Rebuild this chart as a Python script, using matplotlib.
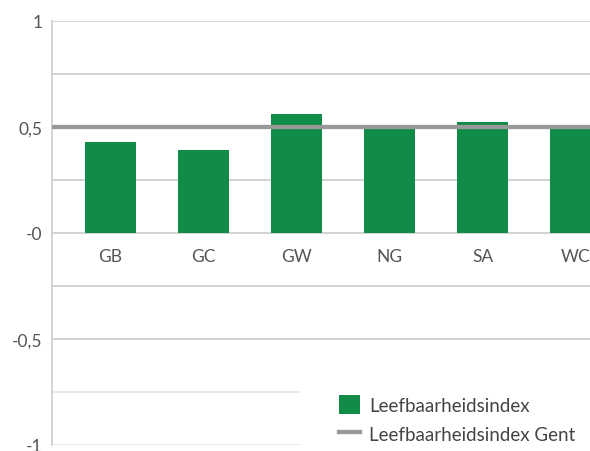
import matplotlib.pyplot as plt
import numpy as np

plt.rcParams["font.family"] = ["Lato", "DejaVu Sans"]

wijken = ["GB", "GC", "GW", "NG", "SA", "WC"]
index_wijk = [0.43, 0.39, 0.56, 0.495, 0.525, 0.5]
index_gent = 0.5
y_ticks = [1, 0.5, 0, -0.5, -1]
y_labels = ["1", "0,5", "-0", "-0,5", "-1"]

GREEN = "#118b48"
GREY_LINE = "#999999"
GRID = "#d0d0d0"
GRID_LIGHT = "#e6e6e6"
TEXT = "#555555"

fig = plt.figure(figsize=(5.9, 4.52), dpi=100)
ax = fig.add_axes([52 / 590, 1 - 446 / 452, 1 - 52 / 590, (446 - 22) / 452])

x = np.arange(len(wijken))
bars = ax.bar(x, index_wijk, width=0.55, color=GREEN, zorder=3, label="Leefbaarheidsindex")
gent = ax.axhline(index_gent, color=GREY_LINE, lw=3.1, zorder=4, label="Leefbaarheidsindex Gent")

for g in np.arange(-1, 1.01, 0.25):
    ax.axhline(g, color=GRID_LIGHT if g < -0.6 else GRID, lw=1.3, zorder=1)

ax.set_xlim(-0.63, (590 - 52) / 93 - 0.63)
ax.set_ylim(-1, 1)

for side in ["top", "right", "bottom"]:
    ax.spines[side].set_visible(False)
ax.spines["left"].set_color(GRID)
ax.spines["left"].set_linewidth(1.3)

ax.set_yticks(y_ticks)
ax.set_yticklabels(y_labels)
ax.tick_params(axis="y", length=0, pad=7, labelsize=12.5, labelcolor=TEXT)

ax.set_xticks([])
for xi, name in zip(x, wijken):
    ax.annotate(name, (xi, 0), xytext=(0, -16.5), textcoords="offset points",
                ha="center", va="center", fontsize=12.5, color=TEXT,
                annotation_clip=False)

leg = ax.legend([bars, gent], ["Leefbaarheidsindex", "Leefbaarheidsindex Gent"],
                loc="upper left", bbox_to_anchor=(300 / 590, 1 - 357 / 452),
                bbox_transform=fig.transFigure, frameon=True, fancybox=False,
                framealpha=1, edgecolor="white", facecolor="white",
                fontsize=13.5, borderpad=2.1, borderaxespad=0,
                handlelength=1.12, handleheight=1.12, handletextpad=0.45,
                labelspacing=0.56, labelcolor="#444444")
leg.set_zorder(10)

fig.savefig("out.png", dpi=100)
